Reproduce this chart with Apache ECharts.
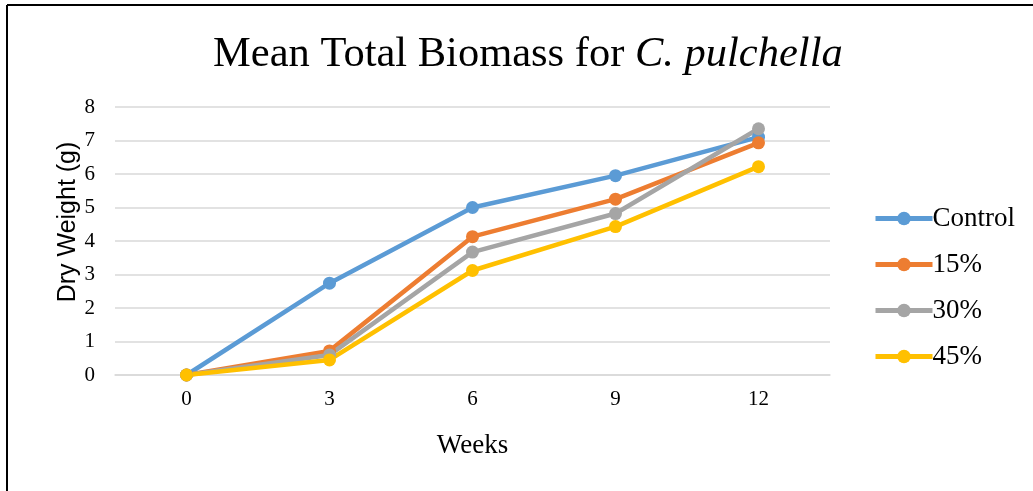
<!DOCTYPE html>
<html>
<head>
<meta charset="utf-8">
<script src="https://cdn.jsdelivr.net/npm/echarts@6/dist/echarts.min.js"></script>
<style>
  html, body { margin: 0; padding: 0; background: #fff; }
  #chart { width: 1033px; height: 491px; }
</style>
</head>
<body>
<div id="chart"></div>
<script>
// data
const weeks = ['0', '3', '6', '9', '12'];
const seriesNames = ['Control', '15%', '30%', '45%'];
const control = [0, 2.74, 5.0, 5.95, 7.1];
const pct15 = [0, 0.72, 4.13, 5.25, 6.93];
const pct30 = [0, 0.6, 3.67, 4.82, 7.35];
const pct45 = [0, 0.45, 3.12, 4.43, 6.22];
const colors = ['#5B9BD5', '#ED7D31', '#A5A5A5', '#FFC000'];

const chart = echarts.init(document.getElementById('chart'));
const serif = '"Liberation Serif", "Times New Roman", serif';

function makeSeries(name, data, color) {
    return {
        name: name,
        type: 'line',
        data: data,
        symbol: 'circle',
        symbolSize: 13,
        lineStyle: { width: 4.5, color: color },
        itemStyle: { color: color },
        emphasis: { disabled: true }
    };
}

const option = {
    animation: false,
    title: {
        text: '{n|Mean Total Biomass for }{i|C. pulchella}',
        left: 208,
        top: 28,
        textStyle: {
            fontWeight: 'normal',
            rich: {
                n: { fontFamily: serif, fontSize: 42.5, fontWeight: 'normal', color: '#000' },
                i: { fontFamily: serif, fontSize: 42.5, fontWeight: 'normal', fontStyle: 'italic', color: '#000' }
            }
        }
    },
    legend: {
        orient: 'vertical',
        left: 868,
        top: 200,
        itemWidth: 57,
        itemHeight: 17,
        itemGap: 19,
        data: seriesNames,
        lineStyle: { width: 5 },
        textStyle: { fontFamily: serif, fontSize: 27, color: '#000', padding: [0, 0, 0, -5] }
    },
    grid: { left: 115, right: 203, top: 107, bottom: 116 },
    xAxis: {
        type: 'category',
        data: weeks,
        boundaryGap: true,
        name: 'Weeks',
        nameLocation: 'middle',
        nameGap: 57,
        nameTextStyle: { fontFamily: serif, fontSize: 27, color: '#000' },
        axisLine: { show: true, lineStyle: { color: '#D9D9D9', width: 1.5 } },
        axisTick: { show: false },
        axisLabel: { fontFamily: serif, fontSize: 21, color: '#000', margin: 14 }
    },
    yAxis: {
        type: 'value',
        min: 0,
        max: 8,
        interval: 1,
        axisLine: { show: false },
        axisTick: { show: false },
        splitLine: { lineStyle: { color: '#D9D9D9', width: 1.5 } },
        axisLabel: { fontFamily: serif, fontSize: 21, color: '#000', margin: 20 }
    },
    graphic: [
        {
            type: 'line',
            shape: { x1: 7, y1: 5, x2: 1033, y2: 5 },
            style: { stroke: '#000', lineWidth: 2 }
        },
        {
            type: 'line',
            shape: { x1: 7, y1: 5, x2: 7, y2: 491 },
            style: { stroke: '#000', lineWidth: 2 }
        },
        {
            type: 'text',
            x: 68,
            y: 222,
            rotation: Math.PI / 2,
            style: {
                text: 'Dry Weight (g)',
                font: '25px "Liberation Sans", Arial, sans-serif',
                fill: '#000',
                align: 'center',
                verticalAlign: 'middle'
            }
        }
    ],
    series: [
        makeSeries(seriesNames[0], control, colors[0]),
        makeSeries(seriesNames[1], pct15, colors[1]),
        makeSeries(seriesNames[2], pct30, colors[2]),
        makeSeries(seriesNames[3], pct45, colors[3])
    ]
};

chart.setOption(option);
</script>
</body>
</html>
